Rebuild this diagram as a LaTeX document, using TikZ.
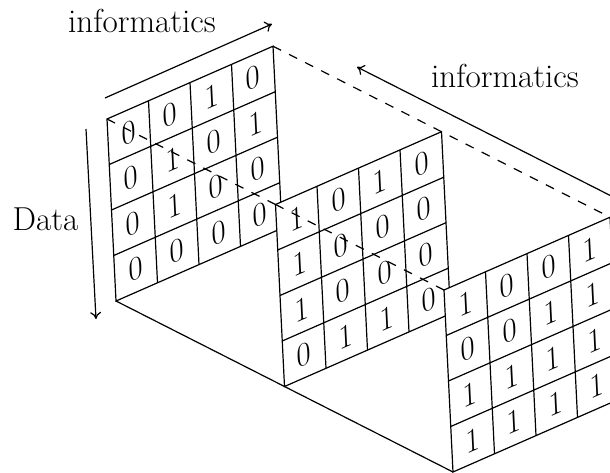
\documentclass[tikz,border=0pt]{standalone}
\usepackage{fontspec}
\usetikzlibrary{arrows.meta}
\begin{document}
\begin{tikzpicture}[line width=1.2pt, font=\fontsize{33.2}{40}\selectfont,
  cellnum/.style={inner sep=0pt, cm={0.918,0.398,-0.0494,0.9987,(0,0)}},
  hidden/.style={dash pattern=on 9pt off 9pt},
  arr/.style={-{To[length=7pt,width=11pt]}},
  panel/.style={fill=white, draw=black}]
\useasboundingbox (0pt,0pt) rectangle (610pt,-472pt);
\begin{scope}[shift={(107pt,-119pt)}, x={(41.5pt,18.2pt)}, y={(2.25pt,-45.5pt)}, z={(168.5pt,-85.5pt)}]
  \foreach \k in {0,1,2} {
    \coordinate (TL\k) at (0,0,\k);
    \coordinate (TR\k) at (4,0,\k);
    \coordinate (BR\k) at (4,4,\k);
    \coordinate (BL\k) at (0,4,\k);
  }
  % bottom and top edges
  \draw (BL0) -- (BL1) -- (BL2);
  \draw[hidden] (TR0) -- (TR1) -- (TR2);
  \foreach \k/\vals in {0/{0,0,1,0,0,1,0,1,0,1,0,0,0,0,0,0},
                        1/{1,0,1,0,1,0,0,0,1,0,0,0,0,1,1,0},
                        2/{1,0,0,1,0,0,1,1,1,1,1,1,1,1,1,1}} {
    \ifnum\k>0
      \pgfmathtruncatemacro\pk{\k-1}
      \draw[hidden] (TL\pk) -- (TL\k);
    \fi
    \path[panel] (TL\k) -- (TR\k) -- (BR\k) -- (BL\k) -- cycle;
    \foreach \i in {1,2,3} {
      \draw (\i,0,\k) -- (\i,4,\k);
      \draw (0,\i,\k) -- (4,\i,\k);
    }
    \foreach \v [count=\n from 0] in \vals {
      \pgfmathtruncatemacro\ci{mod(\n,4)}
      \pgfmathtruncatemacro\rj{floor(\n/4)}
      \coordinate (c\k-\n) at (\ci+0.5,\rj+0.5,\k);
      \node[cellnum] (d\k-\n) at (c\k-\n) {\v};
    }
  }
\end{scope}
% labels and arrows
\coordinate (a1s) at (105pt,-98pt);
\coordinate (a1e) at (272pt,-24pt);
\draw[arr] (a1s) -- (a1e);
\node[anchor=base] (t1) at (142pt,-32pt) {informatics};
\coordinate (a2s) at (614pt,-197.4pt);
\coordinate (a2e) at (357pt,-67pt);
\draw[arr] (a2s) -- (a2e);
\node[anchor=base] (t2) at (505pt,-87pt) {informatics};
\coordinate (a3s) at (86pt,-129pt);
\coordinate (a3e) at (96pt,-319pt);
\draw[arr] (a3s) -- (a3e);
\node[anchor=base] (t3) at (45.5pt,-230pt) {Data};
\end{tikzpicture}
\end{document}
